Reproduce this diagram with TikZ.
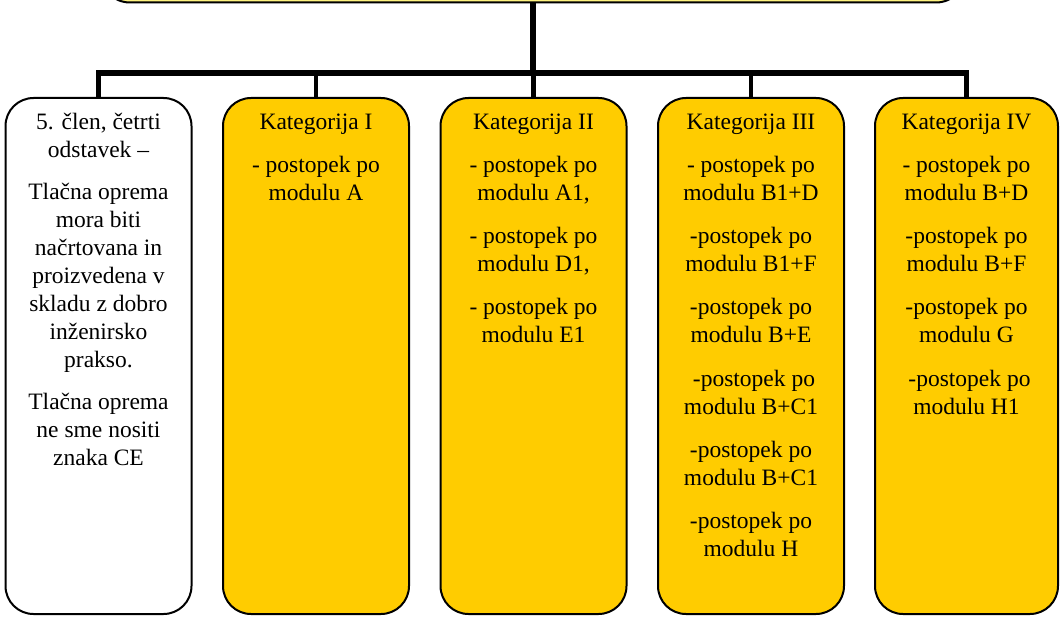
\documentclass[tikz,border=0pt]{standalone}
\usepackage{fontspec}
\setmainfont{Liberation Serif}
\definecolor{gold}{HTML}{FFCC00}
\definecolor{paleyellow}{HTML}{FFF380}
\newcommand{\gap}{\\[15.2pt]}
\newcommand{\firstline}{\rule{0pt}{17pt}}
\begin{document}
\begin{tikzpicture}[x=1pt,y=-1pt,
  card/.style={draw=black,line width=2pt,rounded corners=28pt,
    minimum width=186pt,minimum height=516pt,anchor=north,inner sep=0pt},
  cardtext/.style={anchor=north,align=center,inner sep=0pt,
    font=\fontsize{23.5}{28}\selectfont},
  trunk/.style={line width=6pt},
  branch/.style={line width=4.5pt}]

\useasboundingbox (0,0) rectangle (1061,618);

% header box, only its lower edge lies on the page
\begin{scope}
  \clip (0,0) rectangle (1061,618);
  \node[draw=black,line width=2pt,fill=paleyellow,rounded corners=30pt,
        minimum width=866pt,minimum height=70pt,anchor=south,inner sep=0pt]
        (top) at (533,3.5) {};
\end{scope}

% the five column boxes
\node[card,fill=white] (c1) at (98.5,97) {};
\node[card,fill=gold]  (c2) at (316,97) {};
\node[card,fill=gold]  (c3) at (533.5,97) {};
\node[card,fill=gold]  (c4) at (751,97) {};
\node[card,fill=gold,minimum width=183pt] (c5) at (966.5,97) {};

% connectors
\coordinate (bar) at (533,73);
\draw[trunk] (top.south) -- (top.south |- bar);
\draw[trunk] ([xshift=-2.25pt]c1.north |- bar) -- ([xshift=2.25pt]c5.north |- bar);
\foreach \c in {c1,c2,c3,c4,c5}
  \draw[branch] (\c.north |- bar) -- (\c.north);

% column texts
\node[cardtext] (t1) at (98.5,112) {\firstline 5. člen, četrti\\odstavek –\\[14pt]
  Tlačna oprema\\mora biti\\načrtovana in\\proizvedena v\\skladu z dobro\\inženirsko\\prakso.\\[14pt]
  Tlačna oprema\\ne sme nositi\\znaka CE};

\node[cardtext] (t2) at (316,112) {\firstline Kategorija I\gap
  - postopek po\\modulu A};

\node[cardtext] (t3) at (533.5,112) {\firstline Kategorija II\gap
  - postopek po\\modulu A1,\gap
  - postopek po\\modulu D1,\gap
  - postopek po\\modulu E1};

\node[cardtext] (t4) at (751,112) {\firstline Kategorija III\gap
  - postopek po\\modulu B1+D\gap
  -postopek po\\modulu B1+F\gap
  -postopek po\\modulu B+E\gap
  \hspace*{6pt}-postopek po\\modulu B+C1\gap
  -postopek po\\modulu B+C1\gap
  -postopek po\\modulu H};

\node[cardtext] (t5) at (966.5,112) {\firstline Kategorija IV\gap
  - postopek po\\modulu B+D\gap
  -postopek po\\modulu B+F\gap
  -postopek po\\modulu G\gap
  \hspace*{6pt}-postopek po\\modulu H1};
\end{tikzpicture}
\end{document}
